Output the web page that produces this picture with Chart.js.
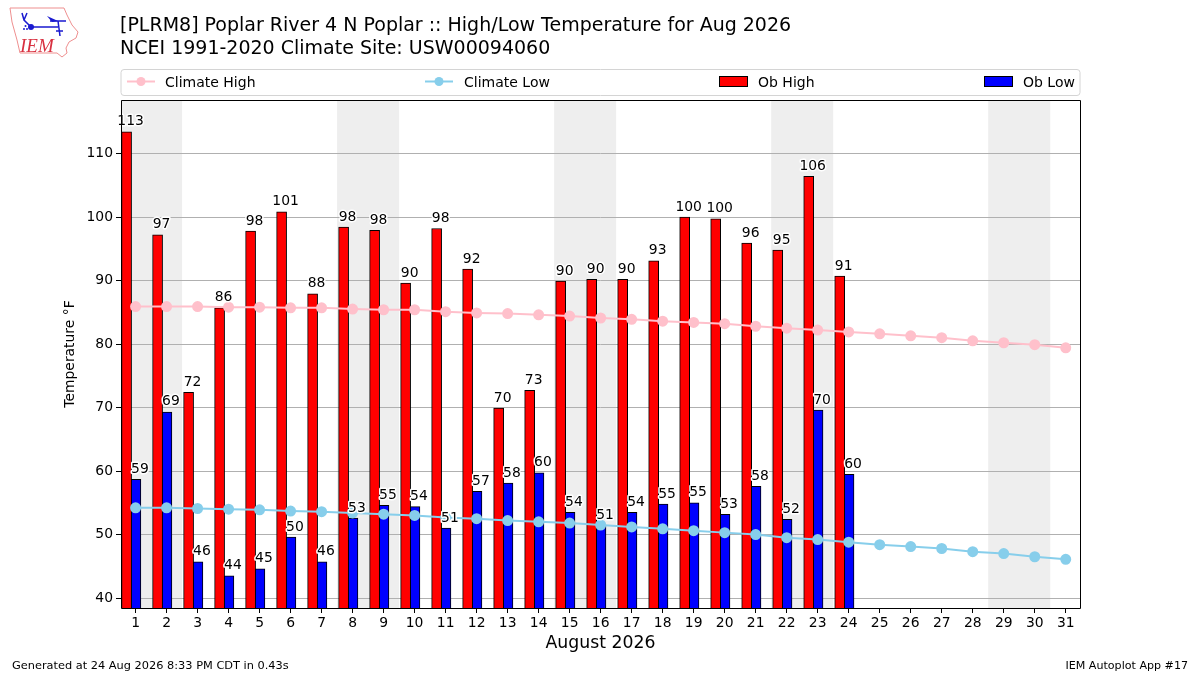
<!DOCTYPE html>
<html>
<head>
<meta charset="utf-8">
<title>High/Low Temperature</title>
<script src="https://cdn.jsdelivr.net/npm/chart.js@4"></script>
<style>
    html, body { margin: 0; padding: 0; background: #fff; }
    canvas { display: block; }
</style>
</head>
<body>
<canvas id="chartCanvas" width="1200" height="675"></canvas>
<script>
const days = [1, 2, 3, 4, 5, 6, 7, 8, 9, 10, 11, 12, 13, 14, 15, 16, 17, 18, 19, 20, 21, 22, 23, 24, 25, 26, 27, 28, 29, 30, 31];
const yTicks = [40, 50, 60, 70, 80, 90, 100, 110];
const weekendStarts = [1, 8, 15, 22, 29];

const obHigh = [113.4, 97.2, 72.4, 85.7, 97.8, 100.8, 87.9, 98.4, 97.9, 89.6, 98.2, 91.8, 69.9, 72.7, 89.9, 90.2, 90.2, 93.1, 100.0, 99.7, 95.9, 94.8, 106.4, 90.7];
const obLow = [58.7, 69.3, 45.7, 43.5, 44.6, 49.6, 45.7, 52.6, 54.6, 54.4, 51.0, 56.8, 58.1, 59.7, 53.5, 51.4, 53.5, 54.8, 55.0, 53.2, 57.6, 52.4, 69.6, 59.5];
const climateHigh = [85.9, 85.9, 85.9, 85.8, 85.8, 85.7, 85.7, 85.5, 85.4, 85.4, 85.1, 84.9, 84.8, 84.6, 84.4, 84.1, 83.9, 83.6, 83.4, 83.2, 82.8, 82.5, 82.2, 81.9, 81.6, 81.3, 81.0, 80.5, 80.2, 79.9, 79.4];
const climateLow = [54.2, 54.2, 54.1, 54.0, 53.9, 53.7, 53.6, 53.4, 53.2, 53.0, 52.7, 52.5, 52.2, 52.0, 51.8, 51.5, 51.2, 50.9, 50.6, 50.3, 50.0, 49.5, 49.2, 48.8, 48.4, 48.1, 47.8, 47.3, 47.0, 46.5, 46.1];

const titleLines = ['[PLRM8] Poplar River 4 N Poplar :: High/Low Temperature for Aug 2026', 'NCEI 1991-2020 Climate Site: USW00094060'];
const footerLeft = 'Generated at 24 Aug 2026 8:33 PM CDT in 0.43s';
const footerRight = 'IEM Autoplot App #17';

const font = '"DejaVu Sans"';

// bars sit left of the day tick, like the original
const redOffset = -0.29;
const blueOffset = 0.01;

function toPoints(values, offset) {
    return values.map((v, i) => ({x: days[i] + offset, y: v}));
}

// grey weekend bands, behind the grid
const weekendBands = {
    id: 'weekendBands',
    beforeDraw(chart) {
        const ctx = chart.ctx;
        const area = chart.chartArea;
        const xScale = chart.scales.x;
        ctx.save();
        ctx.fillStyle = '#eeeeee';
        weekendStarts.forEach((d) => {
            const left = Math.max(xScale.getPixelForValue(d - 0.5), area.left);
            const right = Math.min(xScale.getPixelForValue(d + 1.5), area.right);
            ctx.fillRect(left, area.top, right - left, area.bottom - area.top);
        });
        ctx.restore();
    }
};

// value labels above the bars with a white halo
const barLabels = {
    id: 'barLabels',
    afterDatasetsDraw(chart) {
        const ctx = chart.ctx;
        ctx.save();
        ctx.font = '13.9px ' + font;
        ctx.textAlign = 'center';
        ctx.textBaseline = 'alphabetic';
        ctx.lineJoin = 'round';
        chart.data.datasets.forEach((ds, n) => {
            if (ds.type !== 'bar') return;
            chart.getDatasetMeta(n).data.forEach((bar, i) => {
                const text = String(Math.round(ds.data[i].y));
                const x = bar.x + bar.width / 2 - 1;
                const y = bar.y - 6.5;
                ctx.strokeStyle = '#ffffff';
                ctx.lineWidth = 3;
                ctx.strokeText(text, x, y);
                ctx.fillStyle = '#000000';
                ctx.fillText(text, x, y);
            });
        });
        const a = chart.chartArea;
        ctx.strokeStyle = '#000000';
        ctx.lineWidth = 1;
        ctx.strokeRect(a.left + 0.5, a.top + 0.5, a.right - a.left, a.bottom - a.top);
        ctx.restore();
    }
};

// legend is spread across the plot width in four columns
const spreadLegend = {
    id: 'spreadLegend',
    afterDraw(chart) {
        const ctx = chart.ctx;
        const columns = [127, 425, 719, 984];
        const y = 81.5;
        ctx.save();
        ctx.strokeStyle = '#d4d4d4';
        ctx.lineWidth = 1;
        ctx.fillStyle = '#ffffff';
        ctx.beginPath();
        ctx.roundRect(121, 69.5, 959, 26, 3);
        ctx.fill();
        ctx.stroke();
        chart.data.datasets.forEach((ds, n) => {
            const x = columns[n];
            if (ds.type === 'line') {
                ctx.strokeStyle = ds.borderColor;
                ctx.lineWidth = ds.borderWidth;
                ctx.beginPath();
                ctx.moveTo(x, y);
                ctx.lineTo(x + 28, y);
                ctx.stroke();
                ctx.fillStyle = ds.borderColor;
                ctx.beginPath();
                ctx.arc(x + 14, y, ds.pointRadius, 0, Math.PI * 2);
                ctx.fill();
            } else {
                ctx.fillStyle = ds.backgroundColor;
                ctx.strokeStyle = '#000000';
                ctx.lineWidth = 1;
                ctx.fillRect(x, y - 5, 28, 10);
                ctx.strokeRect(x + 0.5, y - 5, 28, 10);
            }
            ctx.fillStyle = '#000000';
            ctx.font = '14px ' + font;
            ctx.textAlign = 'left';
            ctx.textBaseline = 'alphabetic';
            ctx.fillText(ds.label, x + (n === 0 ? 38 : 39), y + 5);
        });
        ctx.restore();
    }
};

// headline, footer and the little IEM logo
const pageText = {
    id: 'pageText',
    afterDraw(chart) {
        const ctx = chart.ctx;
        ctx.save();
        ctx.fillStyle = '#000000';
        ctx.textBaseline = 'alphabetic';
        ctx.font = '19px ' + font;
        ctx.textAlign = 'left';
        ctx.fillText(titleLines[0], 120, 31);
        ctx.fillText(titleLines[1], 120, 54);
        ctx.font = '11.35px ' + font;
        ctx.fillText(footerLeft, 12, 669);
        ctx.font = '11.1px ' + font;
        ctx.textAlign = 'right';
        ctx.fillText(footerRight, 1188, 669);

        ctx.strokeStyle = '#ee8f8f';
        ctx.lineWidth = 1;
        ctx.beginPath();
        ctx.moveTo(10, 8);
        ctx.lineTo(64, 8);
        ctx.lineTo(67, 15);
        ctx.lineTo(72, 25);
        ctx.lineTo(78, 32);
        ctx.lineTo(76, 38);
        ctx.lineTo(69, 42);
        ctx.lineTo(66, 48);
        ctx.lineTo(67, 53);
        ctx.lineTo(62, 57);
        ctx.lineTo(57, 53);
        ctx.lineTo(20, 53);
        ctx.lineTo(17, 40);
        ctx.lineTo(12, 22);
        ctx.closePath();
        ctx.stroke();

        ctx.strokeStyle = '#1a1ad0';
        ctx.fillStyle = '#1a1ad0';
        ctx.lineWidth = 1.5;
        ctx.beginPath();
        ctx.moveTo(31, 27);
        ctx.lineTo(58, 27);
        ctx.moveTo(50, 21);
        ctx.lineTo(66, 21);
        ctx.moveTo(58, 21);
        ctx.lineTo(60, 36);
        ctx.moveTo(22, 13);
        ctx.lineTo(24, 20);
        ctx.lineTo(31, 27);
        ctx.moveTo(27, 13);
        ctx.lineTo(24, 20);
        ctx.moveTo(56, 31);
        ctx.lineTo(63, 31);
        ctx.stroke();
        ctx.beginPath();
        ctx.arc(31, 27, 3, 0, Math.PI * 2);
        ctx.fill();
        [[24, 29], [27, 29], [25.5, 26]].forEach((p) => {
            ctx.beginPath();
            ctx.arc(p[0], p[1], 1, 0, Math.PI * 2);
            ctx.fill();
        });
        ctx.beginPath();
        ctx.moveTo(47, 16);
        ctx.lineTo(58, 21);
        ctx.lineTo(52, 22);
        ctx.closePath();
        ctx.fill();

        ctx.fillStyle = '#d83040';
        ctx.font = 'italic 19px "Liberation Serif"';
        ctx.textAlign = 'left';
        ctx.fillText('IEM', 20, 52);
        ctx.restore();
    }
};

new Chart(document.getElementById('chartCanvas'), {
    data: {
        datasets: [
            {type: 'line', label: 'Climate High', data: toPoints(climateHigh, 0), borderColor: '#ffc0cb', backgroundColor: '#ffc0cb', borderWidth: 2, pointRadius: 4.5, order: 1},
            {type: 'line', label: 'Climate Low', data: toPoints(climateLow, 0), borderColor: '#87ceeb', backgroundColor: '#87ceeb', borderWidth: 2, pointRadius: 4.5, order: 1},
            {type: 'bar', label: 'Ob High', data: toPoints(obHigh, redOffset), backgroundColor: '#ff0000', borderColor: '#000000', borderWidth: 1, barThickness: 10, grouped: false, order: 2},
            {type: 'bar', label: 'Ob Low', data: toPoints(obLow, blueOffset), backgroundColor: '#0000ff', borderColor: '#000000', borderWidth: 1, barThickness: 10, grouped: false, order: 2}
        ]
    },
    options: {
        responsive: false,
        animation: false,
        devicePixelRatio: 1,
        layout: {padding: {top: 100, right: 120, left: 0, bottom: 21}},
        plugins: {legend: {display: false}, tooltip: {enabled: false}},
        scales: {
            x: {
                type: 'linear',
                min: 0.53,
                max: 31.46,
                offset: false,
                afterBuildTicks: (scale) => { scale.ticks = days.map((d) => ({value: d})); },
                afterFit: (scale) => { scale.height = 46; },
                grid: {offset: false, drawOnChartArea: false, tickLength: 5, tickColor: '#000000'},
                border: {display: false},
                ticks: {autoSkip: false, maxRotation: 0, color: '#000000', font: {family: font, size: 13.9}, padding: 2, callback: (v) => String(v)},
                title: {display: true, text: 'August 2026', color: '#000000', font: {family: font, size: 17.3}, padding: {top: 4, bottom: 0}}
            },
            y: {
                min: 38.43,
                max: 118.43,
                afterBuildTicks: (scale) => { scale.ticks = yTicks.map((v) => ({value: v})); },
                afterFit: (scale) => { scale.width = 121; },
                grid: {color: '#b0b0b0', lineWidth: 1, tickLength: 5, tickColor: '#000000'},
                border: {display: false},
                ticks: {color: '#000000', font: {family: font, size: 13.9}, padding: 3, callback: (v) => String(v)},
                title: {display: true, text: 'Temperature °F', color: '#000000', font: {family: font, size: 13.9}, padding: {top: 62, bottom: 0}}
            }
        }
    },
    plugins: [weekendBands, barLabels, spreadLegend, pageText]
});
</script>
</body>
</html>
